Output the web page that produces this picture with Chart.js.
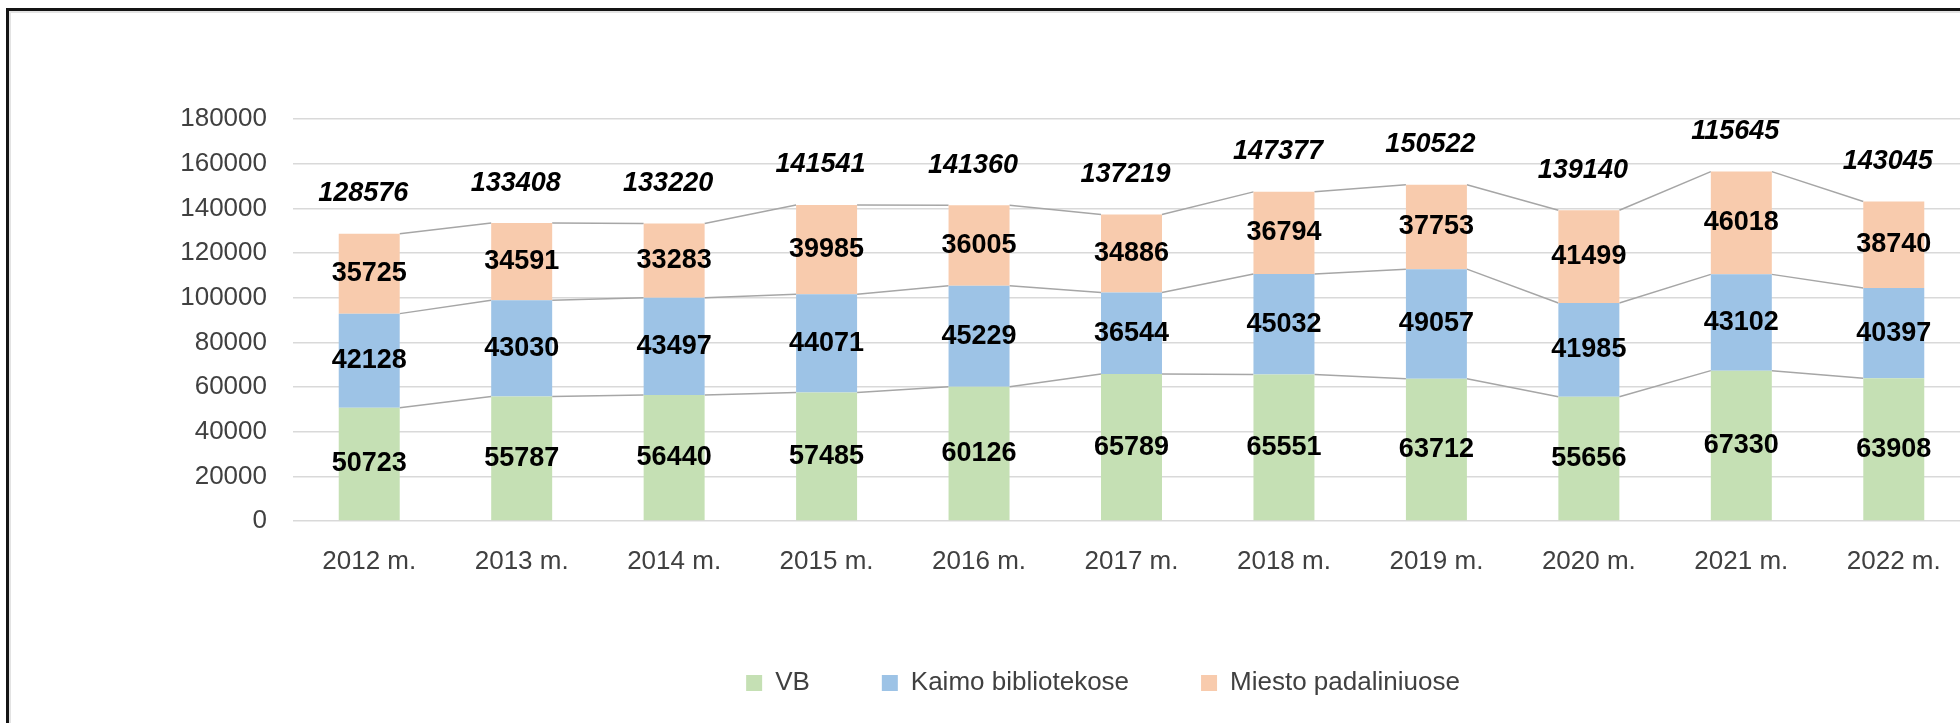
<!DOCTYPE html>
<html>
<head>
<meta charset="utf-8">
<script src="https://cdn.jsdelivr.net/npm/chart.js@4.4.0/dist/chart.umd.min.js"></script>
<style>
  html, body { margin: 0; padding: 0; background: #fff; overflow: hidden; width: 1960px; height: 723px; }
  #frame { position: absolute; left: 6px; top: 8px; width: 3000px; height: 3000px;
           border-left: 3px solid #141414; border-top: 3px solid #141414;
           box-shadow: inset 2px 2px 0 #e3e3e3; }
  #chart { position: absolute; left: 0; top: 0; }
</style>
</head>
<body>
<div id="frame"></div>
<canvas id="chart" width="2000" height="723"></canvas>
<script>
// Duomenys
const years = ['2012 m.', '2013 m.', '2014 m.', '2015 m.', '2016 m.', '2017 m.', '2018 m.', '2019 m.', '2020 m.', '2021 m.', '2022 m.'];
const vb = [50723, 55787, 56440, 57485, 60126, 65789, 65551, 63712, 55656, 67330, 63908];
const kaimo = [42128, 43030, 43497, 44071, 45229, 36544, 45032, 49057, 41985, 43102, 40397];
const miesto = [35725, 34591, 33283, 39985, 36005, 34886, 36794, 37753, 41499, 46018, 38740];
const totalLabels = ['128576', '133408', '133220', '141541', '141360', '137219', '147377', '150522', '139140', '115645', '143045'];
const yTickValues = [0, 20000, 40000, 60000, 80000, 100000, 120000, 140000, 160000, 180000];

const FONT = '"Liberation Sans", Arial, sans-serif';

// Jungiamosios linijos tarp stulpeliu
const seriesLines = {
  id: 'seriesLines',
  beforeDatasetsDraw(chart) {
    const ctx = chart.ctx;
    ctx.save();
    ctx.strokeStyle = '#a6a6a6';
    ctx.lineWidth = 1.5;
    chart.data.datasets.forEach((ds, di) => {
      const bars = chart.getDatasetMeta(di).data;
      ctx.beginPath();
      for (let i = 0; i < bars.length - 1; i++) {
        const a = bars[i], b = bars[i + 1];
        ctx.moveTo(a.x + a.width / 2, a.y);
        ctx.lineTo(b.x - b.width / 2, b.y);
      }
      ctx.stroke();
    });
    ctx.restore();
  }
};

// Reiksmiu uzrasai
const valueLabels = {
  id: 'valueLabels',
  afterDatasetsDraw(chart) {
    const ctx = chart.ctx;
    ctx.save();
    ctx.fillStyle = '#000';
    ctx.textAlign = 'center';
    ctx.textBaseline = 'middle';
    ctx.font = 'bold 27px ' + FONT;
    chart.data.datasets.forEach((ds, di) => {
      chart.getDatasetMeta(di).data.forEach((bar, i) => {
        ctx.fillText(String(ds.data[i]), bar.x, (bar.y + bar.base) / 2);
      });
    });
    ctx.font = 'italic bold 27px ' + FONT;
    const top = chart.getDatasetMeta(chart.data.datasets.length - 1).data;
    top.forEach((bar, i) => {
      ctx.fillText(totalLabels[i], bar.x - 6, bar.y - 40);
    });
    ctx.restore();
  }
};

// legenda centruojama kaip Excel'yje
const legendShift = {
  id: 'legendShift',
  afterLayout(chart) {
    chart.legend.left = 236;
    chart.legend.right = 1970;
  }
};

new Chart(document.getElementById('chart').getContext('2d'), {
  type: 'bar',
  data: {
    labels: years,
    datasets: [
      { label: 'VB', data: vb, backgroundColor: '#c5e0b4', borderWidth: 0 },
      { label: 'Kaimo bibliotekose', data: kaimo, backgroundColor: '#9dc3e6', borderWidth: 0 },
      { label: 'Miesto padaliniuose', data: miesto, backgroundColor: '#f8cbad', borderWidth: 0 }
    ]
  },
  options: {
    responsive: false,
    animation: false,
    devicePixelRatio: 1,
    barPercentage: 0.4,
    categoryPercentage: 1,
    layout: { padding: { left: 0, right: 30, top: 119, bottom: 17 } },
    plugins: {
      tooltip: { enabled: false },
      legend: {
        position: 'bottom',
        labels: {
          font: { family: FONT, size: 26 },
          color: '#404040',
          boxWidth: 16,
          boxHeight: 16,
          padding: 72
        }
      }
    },
    scales: {
      x: {
        stacked: true,
        grid: { display: false },
        border: { display: false },
        ticks: { font: { family: FONT, size: 26 }, color: '#404040', padding: 17, maxRotation: 0 },
        afterFit(scale) { scale.height = 77; }
      },
      y: {
        stacked: true,
        min: 0,
        max: 180000,
        afterBuildTicks(scale) { scale.ticks = yTickValues.map(v => ({ value: v })); },
        grid: { color: '#d9d9d9', lineWidth: 1.5, drawTicks: false },
        border: { display: false },
        ticks: { font: { family: FONT, size: 26 }, color: '#404040', padding: 26, callback: v => String(v) },
        afterFit(scale) { scale.width = 293; }
      }
    }
  },
  plugins: [seriesLines, valueLabels, legendShift]
});
</script>
</body>
</html>
